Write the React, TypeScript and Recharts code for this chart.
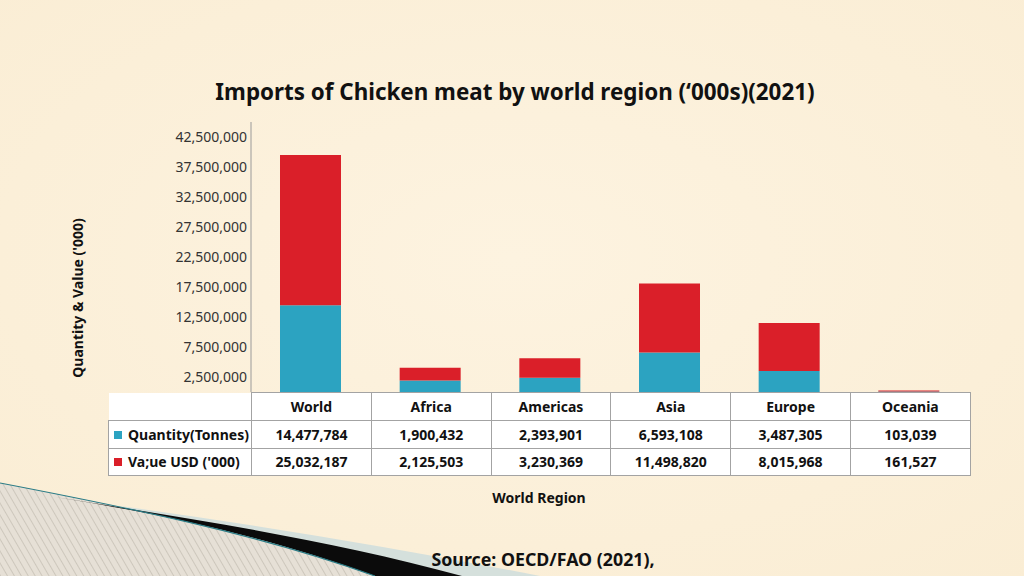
import React from "react";
import { BarChart, Bar, XAxis, YAxis } from "recharts";

const regions = ["World", "Africa", "Americas", "Asia", "Europe", "Oceania"];
const quantityTonnes = [14477784, 1900432, 2393901, 6593108, 3487305, 103039];
const valueUsd = [25032187, 2125503, 3230369, 11498820, 8015968, 161527];
const yTicks = [2500000, 7500000, 12500000, 17500000, 22500000, 27500000, 32500000, 37500000, 42500000];
const seriesNames = ["Quantity(Tonnes)", "Va;ue USD ('000)"];
const seriesColors = ["#2ca3c1", "#da1f29"];

const data = regions.map((r, i) => ({ region: r, quantity: quantityTonnes[i], value: valueUsd[i] }));
const fmt = (v: number) => v.toLocaleString("en-US");

const FONT = '"Noto Sans", "Open Sans", sans-serif';

const Decor = () => (
  <svg width={1024} height={576} style={{ position: "absolute", left: 0, top: 0 }}>
    <defs>
      <pattern id="hatch" width="6" height="6" patternUnits="userSpaceOnUse" patternTransform="rotate(-30)">
        <rect width="6" height="6" fill="#e6e0d6" />
        <line x1="0" y1="0" x2="0" y2="6" stroke="#bdb6ab" strokeWidth="1.2" />
      </pattern>
      <radialGradient id="bgGrad" cx="50%" cy="45%" r="75%">
        <stop offset="0%" stopColor="#fdf3e0" />
        <stop offset="100%" stopColor="#faedd4" />
      </radialGradient>
    </defs>
    <rect width={1024} height={576} fill="url(#bgGrad)" />
    <path d="M120,506 Q330,535 540,576 L375,576 Z" fill="#d5e0dc" />
    <path d="M0,483 C120,506 260,534 375,576 L0,576 Z" fill="url(#hatch)" />
    <path d="M55,497 C200,520 330,540 462,576 L375,576 C260,534 150,512 55,497 Z" fill="#0b0b0b" />
    <path d="M0,483 C120,506 260,534 375,576" fill="none" stroke="#2b7c86" strokeWidth={1.2} />
  </svg>
);

const cellBase: React.CSSProperties = {
  border: "1px solid #a3a3a3",
  textAlign: "center",
  fontWeight: 700,
  fontSize: 14,
  color: "#111111",
  padding: 0,
  background: "#ffffff",
};

const DataTable = () => (
  <table
    style={{
      position: "absolute",
      left: 108,
      top: 392,
      width: 862,
      borderCollapse: "collapse",
      tableLayout: "fixed",
      fontFamily: FONT,
    }}
  >
    <colgroup>
      <col style={{ width: 143 }} />
      {regions.map((r) => (
        <col key={r} style={{ width: 119.8 }} />
      ))}
    </colgroup>
    <tbody>
      <tr style={{ height: 28 }}>
        <td style={{ ...cellBase, borderTop: "none", borderLeft: "none" }} />
        {regions.map((r) => (
          <td key={r} style={cellBase}>{r}</td>
        ))}
      </tr>
      {[quantityTonnes, valueUsd].map((row, si) => (
        <tr key={si} style={{ height: 27.5 }}>
          <td style={{ ...cellBase, textAlign: "left", whiteSpace: "nowrap" }}>
            <span
              style={{
                display: "inline-block",
                width: 8,
                height: 8,
                background: seriesColors[si],
                marginLeft: 5,
                marginRight: 6,
                verticalAlign: "middle",
                position: "relative",
                top: -1,
              }}
            />
            {seriesNames[si]}
          </td>
          {row.map((v, i) => (
            <td key={i} style={cellBase}>{fmt(v)}</td>
          ))}
        </tr>
      ))}
    </tbody>
  </table>
);

export default function App() {
  return (
    <div
      style={{
        position: "fixed",
        left: 0,
        top: 0,
        width: 1024,
        height: 576,
        overflow: "hidden",
        fontFamily: FONT,
        background: "#fbefd8",
      }}
    >
      <Decor />
      <div
        style={{
          position: "absolute",
          left: 0,
          top: 76,
          width: 1030,
          textAlign: "center",
          fontSize: 22.4,
          fontWeight: 700,
          color: "#111",
        }}
      >
        Imports of Chicken meat by world region (‘000s)(2021)
      </div>
      <div
        style={{
          position: "absolute",
          left: 77,
          top: 298,
          transform: "translate(-50%, -50%) rotate(-90deg)",
          whiteSpace: "nowrap",
          fontSize: 14,
          fontWeight: 700,
          color: "#111",
        }}
      >
        Quantity &amp; Value ('000)
      </div>
      <div style={{ position: "absolute", left: 0, top: 0 }}>
        <BarChart
          width={1024}
          height={576}
          data={data}
          margin={{ top: 122, right: 55, bottom: 184, left: 111 }}
          barSize={61}
        >
          <XAxis dataKey="region" hide />
          <YAxis
            width={140}
            domain={[0, 45000000]}
            ticks={yTicks}
            tickFormatter={fmt}
            tickLine={false}
            tickSize={2}
            tickMargin={2}
            axisLine={{ stroke: "#9a9a9a" }}
            tick={{ fill: "#333333", fontSize: 14, fontFamily: FONT }}
            interval={0}
          />
          <Bar dataKey="quantity" stackId="a" fill={seriesColors[0]} isAnimationActive={false} />
          <Bar dataKey="value" stackId="a" fill={seriesColors[1]} isAnimationActive={false} />
        </BarChart>
      </div>
      <DataTable />
      <div
        style={{
          position: "absolute",
          left: 108,
          width: 862,
          top: 488,
          textAlign: "center",
          fontSize: 14,
          fontWeight: 700,
          color: "#111",
        }}
      >
        World Region
      </div>
      <div
        style={{
          position: "absolute",
          left: 112,
          width: 862,
          top: 547,
          textAlign: "center",
          fontSize: 17.8,
          fontWeight: 700,
          color: "#111",
        }}
      >
        Source: OECD/FAO (2021),
      </div>
    </div>
  );
}
